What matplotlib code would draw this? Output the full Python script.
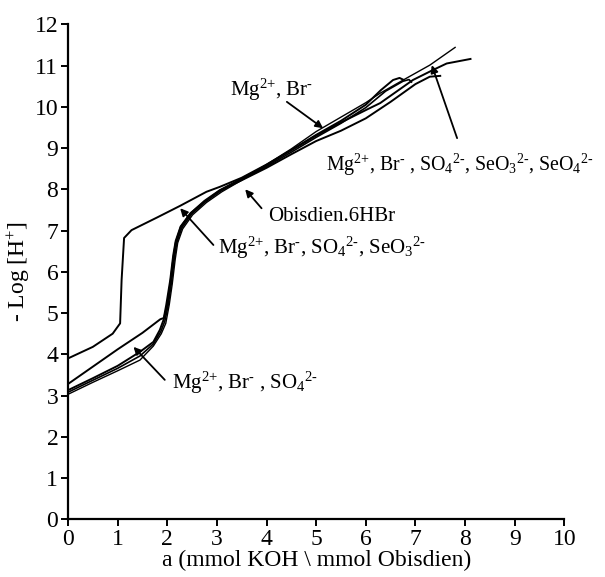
import matplotlib
matplotlib.use("Agg")
import matplotlib.pyplot as plt

plt.rcParams['font.family'] = ['Liberation Serif', 'DejaVu Serif']
plt.rcParams['mathtext.fontset'] = 'custom'
plt.rcParams['mathtext.rm'] = 'Liberation Serif'
plt.rcParams['mathtext.it'] = 'Liberation Serif:italic'
plt.rcParams['mathtext.bf'] = 'Liberation Serif:bold'

# ---- data ----
mgbr_x = [0, 0.5, 0.9, 1.05, 1.08, 1.13, 1.28, 1.8, 2.26, 2.79, 3.06, 3.5, 4.0, 4.5, 5.0, 5.5, 6.0, 6.29, 6.95, 7.35, 7.63, 8.11]
mgbr_y = [3.9, 4.18, 4.5, 4.75, 5.8, 6.82, 7.01, 7.32, 7.6, 7.94, 8.06, 8.28, 8.6, 8.95, 9.3, 9.62, 9.92, 10.09, 10.65, 10.89, 11.05, 11.16]

so4_x = [0, 0.5, 1.0, 1.5, 1.86, 1.93, 1.98, 2.06, 2.12, 2.17, 2.27, 2.47, 2.75, 3.06, 3.5, 4.0, 4.5, 5.0, 5.5, 6.0, 6.5, 7.0, 7.29, 7.5]
so4_y = [3.28, 3.7, 4.12, 4.52, 4.85, 4.88, 5.2, 5.8, 6.4, 6.75, 7.1, 7.42, 7.7, 7.97, 8.22, 8.52, 8.85, 9.17, 9.42, 9.72, 10.12, 10.55, 10.73, 10.75]

obis_x = [0, 0.5, 1.0, 1.45, 1.72, 1.85, 1.93, 2.0, 2.06, 2.12, 2.17, 2.27, 2.47, 2.75, 3.06, 3.5, 4.0, 4.5, 5.0, 5.5, 6.0, 6.3, 6.55, 6.68, 6.75]
obis_y = [3.13, 3.42, 3.72, 4.06, 4.3, 4.59, 4.85, 5.2, 5.7, 6.3, 6.7, 7.08, 7.42, 7.72, 7.98, 8.26, 8.58, 8.95, 9.32, 9.66, 10.05, 10.4, 10.65, 10.7, 10.66]

seo3_x = [0, 0.5, 1.0, 1.45, 1.72, 1.87, 1.95, 2.02, 2.08, 2.14, 2.19, 2.29, 2.49, 2.77, 3.08, 3.5, 4.0, 4.5, 5.0, 5.5, 6.0, 6.4, 6.75, 6.87, 6.92]
seo3_y = [3.08, 3.37, 3.66, 3.96, 4.25, 4.55, 4.8, 5.2, 5.7, 6.3, 6.7, 7.06, 7.4, 7.7, 7.96, 8.24, 8.55, 8.9, 9.26, 9.6, 9.98, 10.38, 10.62, 10.66, 10.6]

seo4_x = [0, 0.5, 1.0, 1.45, 1.72, 1.88, 1.97, 2.04, 2.1, 2.16, 2.21, 2.31, 2.51, 2.79, 3.1, 3.5, 4.0, 4.5, 5.0, 5.5, 6.0, 6.29, 6.8, 7.29, 7.8]
seo4_y = [3.03, 3.32, 3.6, 3.86, 4.2, 4.5, 4.75, 5.2, 5.7, 6.3, 6.7, 7.04, 7.38, 7.68, 7.94, 8.22, 8.6, 8.98, 9.4, 9.75, 10.1, 10.33, 10.68, 11.01, 11.44]

x_ticks = list(range(0, 11))
y_ticks = list(range(0, 13))

fig = plt.figure(figsize=(6.05, 5.77), dpi=100)
ax = fig.add_axes([68/605, 1-519.3/577, (564.3-68)/605, (519.3-24.3)/577])

ax.plot(mgbr_x, mgbr_y, color='k', lw=1.4)
ax.plot(so4_x, so4_y, color='k', lw=1.4)
ax.plot(obis_x, obis_y, color='k', lw=1.4)
ax.plot(seo3_x, seo3_y, color='k', lw=1.2)
ax.plot(seo4_x, seo4_y, color='k', lw=1.0)

ax.set_xlim(0, 10)
ax.set_ylim(0, 12)
ax.set_xticks(x_ticks)
ax.set_yticks(y_ticks)
ax.tick_params(direction='out', length=5, width=1.4, labelsize=17, pad=2)
for s in ['top', 'right']:
    ax.spines[s].set_visible(False)
for s in ['left', 'bottom']:
    ax.spines[s].set_linewidth(1.6)

ax.set_xlabel(r'a (mmol KOH \ mmol Obisdien)', fontsize=17, labelpad=0)
ax.set_ylabel(r'- Log [H$^{+}$]', fontsize=17, labelpad=2)

M = r'$^{\text{-}}$'
D2 = r'$^{\text{2-}}$'
MG = r'Mg$^{\text{2+}}$'

ap = dict(arrowstyle='-|>', lw=1.3, color='k', mutation_scale=11, shrinkA=0, shrinkB=0)
fs = 15
ax.annotate('', xy=(5.14, 9.48), xytext=(4.41, 10.12), arrowprops=ap)
ax.text(3.26, 10.41, MG + ', Br' + M, fontsize=fs, ha='left', va='center')
ax.annotate('', xy=(7.33, 11.01), xytext=(7.84, 9.24), arrowprops=ap)
ax.text(5.2, 8.59, MG + ', Br' + M + ' , SO$_{4}$' + D2 + ', SeO$_{3}$' + D2 + ', SeO$_{4}$' + D2,
        fontsize=14.3, ha='left', va='center')
ax.annotate('', xy=(3.57, 8.0), xytext=(3.9, 7.54), arrowprops=ap)
ax.text(4.03, 7.33, 'Obisdien.6HBr', fontsize=fs, ha='left', va='center')
ax.annotate('', xy=(2.26, 7.54), xytext=(2.93, 6.65), arrowprops=ap)
ax.text(3.02, 6.58, MG + ', Br' + M + ', SO$_{4}$' + D2 + ', SeO$_{3}$' + D2,
        fontsize=fs, ha='left', va='center')
ax.annotate('', xy=(1.32, 4.18), xytext=(1.95, 3.38), arrowprops=ap)
ax.text(2.1, 3.31, MG + ', Br' + M + ' , SO$_{4}$' + D2, fontsize=fs, ha='left', va='center')

fig.savefig('out.png', dpi=100)
